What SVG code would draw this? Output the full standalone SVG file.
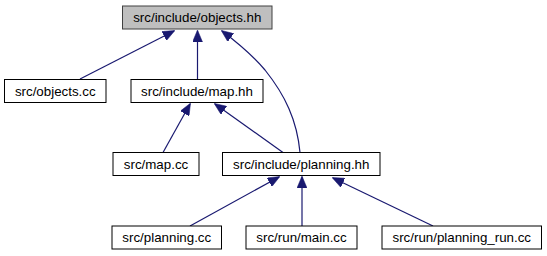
<svg xmlns="http://www.w3.org/2000/svg" width="547" height="256" viewBox="0 0 547 256">
  <style>
    .node rect { fill: #ffffff; stroke: #000000; stroke-width: 1; }
    .node.root rect { fill: #bfbfbf; stroke: #404040; }
    .node text { font-family: "Liberation Sans", Arial, Helvetica, sans-serif; font-size: 13.33px; fill: #000000; text-anchor: middle; }
    .edge { fill: none; stroke: #191970; stroke-width: 1.2; marker-end: url(#arrow); }
  </style>
  <defs>
    <marker id="arrow" viewBox="0 0 12 10" refX="11" refY="5" markerWidth="12" markerHeight="10" markerUnits="userSpaceOnUse" orient="auto">
      <path d="M0,0 L12,5 L0,10 Z" fill="#191970" stroke="#191970" stroke-width="0.5"/>
    </marker>
  </defs>

  <rect width="547" height="256" fill="#ffffff"/>

  <!-- include dependencies -->
  <g id="edges">
    <path class="edge" d="M80,79 L174,31"/>
    <path class="edge" d="M197.5,79 L197.5,31"/>
    <path class="edge" d="M300,152.5 C297,120 285,95 265,70 C254,57 242,46 222,31"/>
    <path class="edge" d="M163,152.5 L190,104"/>
    <path class="edge" d="M283,152.5 L215,104"/>
    <path class="edge" d="M190,226 L279,177"/>
    <path class="edge" d="M302,226 L302,177"/>
    <path class="edge" d="M433,226 L333,178"/>
  </g>

  <g id="objects_hh" class="node root">
    <rect x="122.5" y="6" width="149.5" height="23"/>
    <text x="197.25" y="22">src/include/objects.hh</text>
  </g>
  <g id="objects_cc" class="node">
    <rect x="4.5" y="79.5" width="101.5" height="23"/>
    <text x="55.25" y="95.5">src/objects.cc</text>
  </g>
  <g id="map_hh" class="node">
    <rect x="131" y="79.5" width="132" height="23"/>
    <text x="197" y="95.5">src/include/map.hh</text>
  </g>
  <g id="map_cc" class="node">
    <rect x="113" y="152.5" width="86" height="23"/>
    <text x="156" y="168.5">src/map.cc</text>
  </g>
  <g id="planning_hh" class="node">
    <rect x="222.5" y="152.5" width="157.5" height="23"/>
    <text x="301.25" y="168.5">src/include/planning.hh</text>
  </g>
  <g id="planning_cc" class="node">
    <rect x="112" y="226" width="109.5" height="23"/>
    <text x="166.75" y="242">src/planning.cc</text>
  </g>
  <g id="main_cc" class="node">
    <rect x="246" y="226" width="111" height="23"/>
    <text x="301.5" y="242">src/run/main.cc</text>
  </g>
  <g id="planning_run_cc" class="node">
    <rect x="382" y="226" width="159.5" height="23"/>
    <text x="461.75" y="242">src/run/planning_run.cc</text>
  </g>
</svg>
